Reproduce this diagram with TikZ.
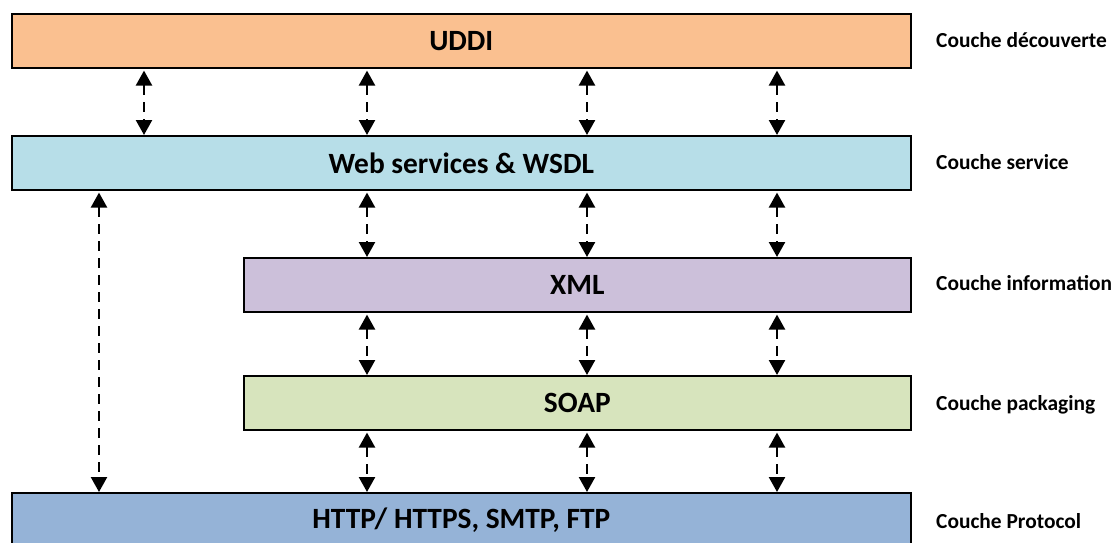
\documentclass[tikz,border=0pt]{standalone}
\usepackage{fontspec}
\setmainfont{Carlito}
\usetikzlibrary{arrows.meta}
\definecolor{cuddi}{HTML}{FAC090}
\definecolor{cws}{HTML}{B7DEE8}
\definecolor{cxml}{HTML}{CCC0DA}
\definecolor{csoap}{HTML}{D7E4BD}
\definecolor{chttp}{HTML}{95B3D7}
\tikzset{
  layer/.style={draw=black, line width=1.6pt, minimum height=54pt, inner sep=0pt,
    font=\fontsize{29.4}{32}\selectfont\bfseries, anchor=north west},
  lbl/.style={anchor=west, inner sep=0pt, font=\fontsize{21.4}{24}\selectfont\bfseries},
  link/.style={line width=2.4pt, dash pattern=on 10pt off 7pt,
    {Triangle[width=16pt,length=15pt]}-{Triangle[width=16pt,length=15pt]},
    shorten <=2pt}
}
\begin{document}
\begin{tikzpicture}[x=1pt,y=-1pt]
\useasboundingbox (0,0) rectangle (1113,543);
\node[layer, fill=cuddi, minimum width=899pt] (uddi) at (11,13) {UDDI};
\node[layer, fill=cws, minimum width=899pt] (ws) at (11,135) {Web services \& WSDL};
\node[layer, fill=cxml, minimum width=667pt] (xml) at (243,257) {XML};
\node[layer, fill=csoap, minimum width=667pt] (soap) at (243,375) {SOAP};
\node[layer, fill=chttp, minimum width=899pt] (http) at (11,492) {HTTP/ HTTPS, SMTP, FTP};
\node[lbl] (l1) at (936,40) {Couche découverte};
\node[lbl] (l2) at (936,162) {Couche service};
\node[lbl] (l3) at (936,283) {Couche information};
\node[lbl] (l4) at (936,405) {Couche packaging};
\node[lbl] (l5) at (936,521) {Couche Protocol};
\foreach \x in {144,367,587,777}
  \draw[link] (uddi.south -| \x,0) -- (ws.north -| \x,0);
\foreach \x in {367,587,777} {
  \draw[link] (ws.south -| \x,0) -- (xml.north -| \x,0);
  \draw[link] (xml.south -| \x,0) -- (soap.north -| \x,0);
  \draw[link] (soap.south -| \x,0) -- (http.north -| \x,0);
}
\draw[link] (ws.south -| 99,0) -- (http.north -| 99,0);
\end{tikzpicture}
\end{document}
